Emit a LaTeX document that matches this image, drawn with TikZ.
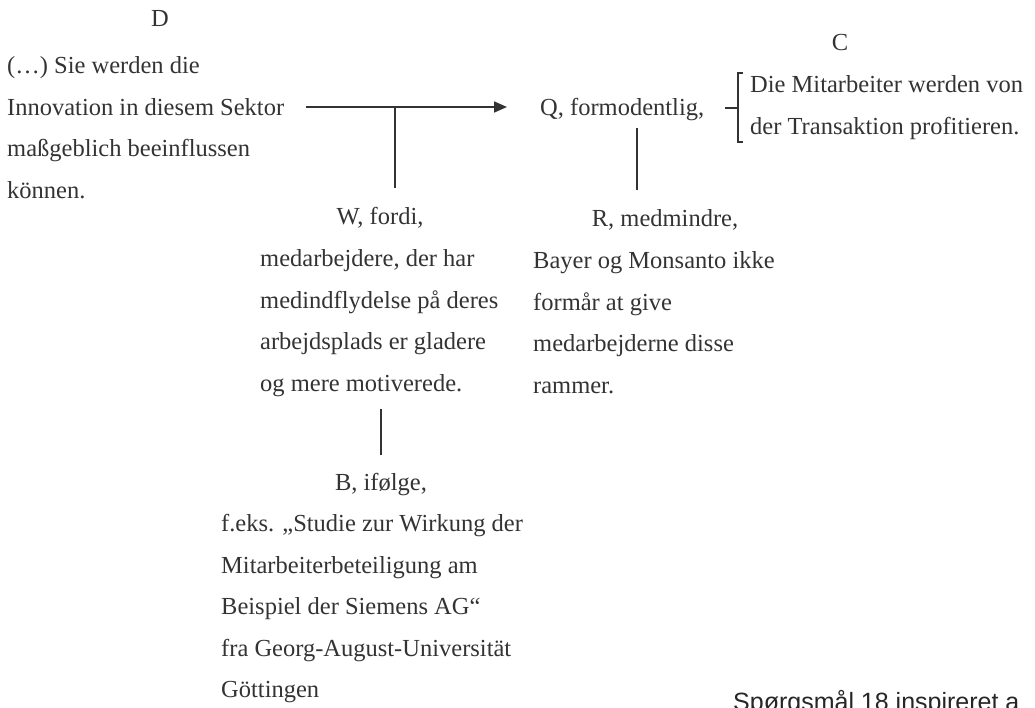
\documentclass[tikz,border=0pt]{standalone}
\usepackage{fontspec}
\setmainfont{Liberation Serif}
\newfontfamily\notefont{Liberation Sans}
\usetikzlibrary{arrows.meta}

\tikzset{
  txt/.style={inner sep=0pt, text=black!80, font=\fontsize{24.5}{41.5}\selectfont},
  blk/.style={txt, align=left, anchor=north west},
  lnk/.style={draw=black!80, line width=1.6pt},
}

\begin{document}
\begin{tikzpicture}[x=1pt, y=-1pt, >={Triangle[length=13pt,width=11pt]}]
  % Rahmen
  \useasboundingbox (0,0) rectangle (1035,707);
  \clip (0,0) rectangle (1035,707);

  % D og data
  \node[txt, anchor=base] (dlab) at (160,26) {D};
  \node[blk] (dtext) at (7,56.3) {(…) Sie werden die\\Innovation in diesem Sektor\\maßgeblich beeinflussen\\können.};

  % Q og C
  \node[txt, anchor=base west] (qtext) at (540,115) {Q, formodentlig,};
  \node[txt, anchor=base] (clab) at (840,50) {C};
  \node[blk] (ctext) at (750,75.3) {Die Mitarbeiter werden von\\der Transaktion profitieren.};

  % W og R
  \node[txt, anchor=base] (wlab) at (380,224) {W, fordi,};
  \node[blk] (wtext) at (260,249.3) {medarbejdere, der har\\medindflydelse på deres\\arbejdsplads er gladere\\og mere motiverede.};
  \node[txt, anchor=base] (rlab) at (665,226) {R, medmindre,};
  \node[blk] (rtext) at (533,251.3) {Bayer og Monsanto ikke\\formår at give\\medarbejderne disse\\rammer.};

  % B
  \node[txt, anchor=base] (blab) at (381,490) {B, ifølge,};
  \node[blk] (btext) at (221,514.3) {f.eks. „Studie zur Wirkung der\\Mitarbeiterbeteiligung am\\Beispiel der Siemens AG“\\fra Georg-August-Universität\\Göttingen};

  % note nederst
  \node[anchor=base west, inner sep=0pt, text=black!85, font=\notefont\fontsize{25}{30}\selectfont] (note) at (733,710) {Spørgsmål 18 inspireret a};

  % forbindelser
  \coordinate (jw) at (395,107);
  \coordinate (jq) at (637,115);
  \draw[lnk, ->, shorten <=22pt, shorten >=33pt] (dtext.east |- jw) -- (qtext.west |- jw);
  \draw[lnk, shorten >=19pt] (jw) -- (jw |- wlab.north);
  \draw[lnk, shorten <=8pt, shorten >=19pt] (jq |- qtext.south) -- (jq |- rlab.north);
  \draw[lnk, shorten <=13pt, shorten >=18pt] (blab.north |- wtext.south) -- (blab.north);

  % klamme
  \draw[lnk, line width=1.4pt] (743,73) -- (738,73) -- (738,142) -- (743,142);
  \draw[lnk, line width=1.4pt] (725,108) -- (738,108);
\end{tikzpicture}
\end{document}
